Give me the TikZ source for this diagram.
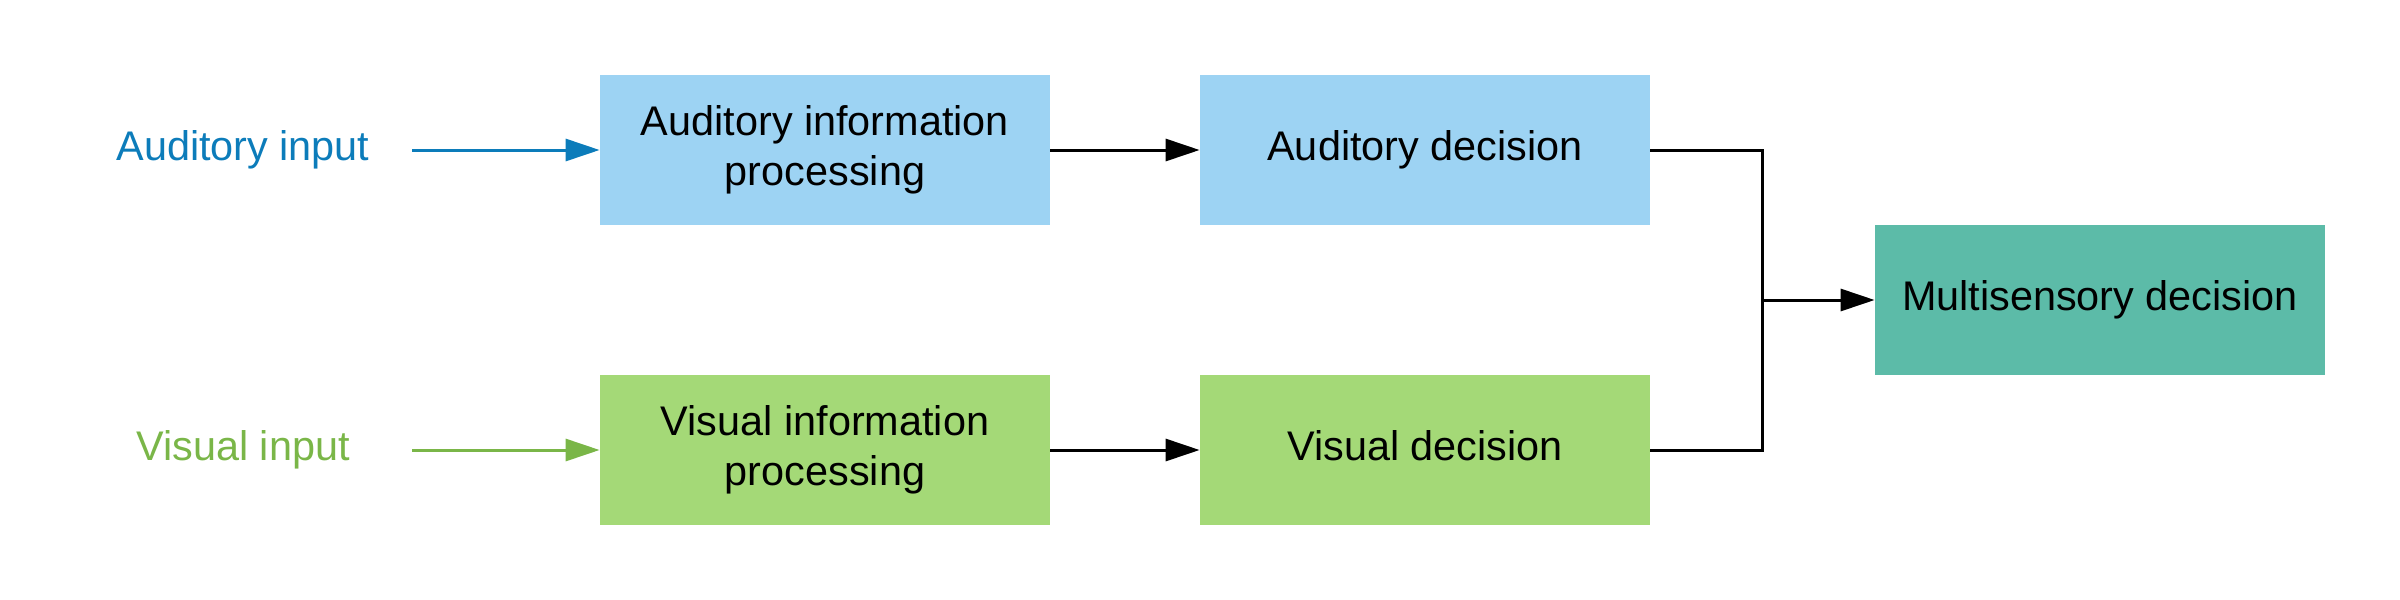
\documentclass[tikz,border=0pt]{standalone}
\usepackage{fontspec}
\setmainfont{Liberation Sans}
\usetikzlibrary{arrows.meta}
\definecolor{audfill}{HTML}{9DD3F3}
\definecolor{audline}{HTML}{0C7CBA}
\definecolor{visfill}{HTML}{A4D977}
\definecolor{visline}{HTML}{7AB648}
\definecolor{msfill}{HTML}{5CBBA8}
\tikzset{
  txt/.style={font=\fontsize{20.7}{25}\selectfont, align=center},
  box/.style={txt, minimum width=225pt, minimum height=75pt, inner sep=0pt, draw=none},
  lbl/.style={txt, minimum width=169pt, inner sep=0pt},
  conn/.style={line width=1.5pt},
  arr/.style={conn, -{Triangle[length=17pt,width=11pt]}},
}
\begin{document}
\begin{tikzpicture}[x=0.5pt,y=-0.5pt]
\useasboundingbox (0,0) rectangle (2400,600);
% boxes
\node[box, fill=audfill] (aip) at (825,150) {Auditory information\\processing};
\node[box, fill=audfill] (ad) at (1425,150) {\strut Auditory decision};
\node[box, fill=visfill] (vip) at (825,450) {Visual information\\processing};
\node[box, fill=visfill] (vd) at (1425,450) {\strut Visual decision};
\node[box, fill=msfill] (ms) at (2100,300) {\strut Multisensory decision};
% input labels
\node[lbl, text=audline] (ain) at (243,150) {\strut Auditory input};
\node[lbl, text=visline] (vin) at (243,450) {\strut Visual input};
\coordinate (j) at (1762,300);
% connectors
\draw[arr, draw=audline, fill=audline] (412,150) coordinate (ainend) -- (aip.west);
\draw[arr, draw=visline, fill=visline] (412,450) coordinate (vinend) -- (vip.west);
\draw[arr] (aip.east) -- (ad.west);
\draw[arr] (vip.east) -- (vd.west);
\draw[conn] (ad.east) -| (j);
\draw[conn] (vd.east) -| (j);
\draw[arr] (j) -- (ms.west);
\end{tikzpicture}
\end{document}
